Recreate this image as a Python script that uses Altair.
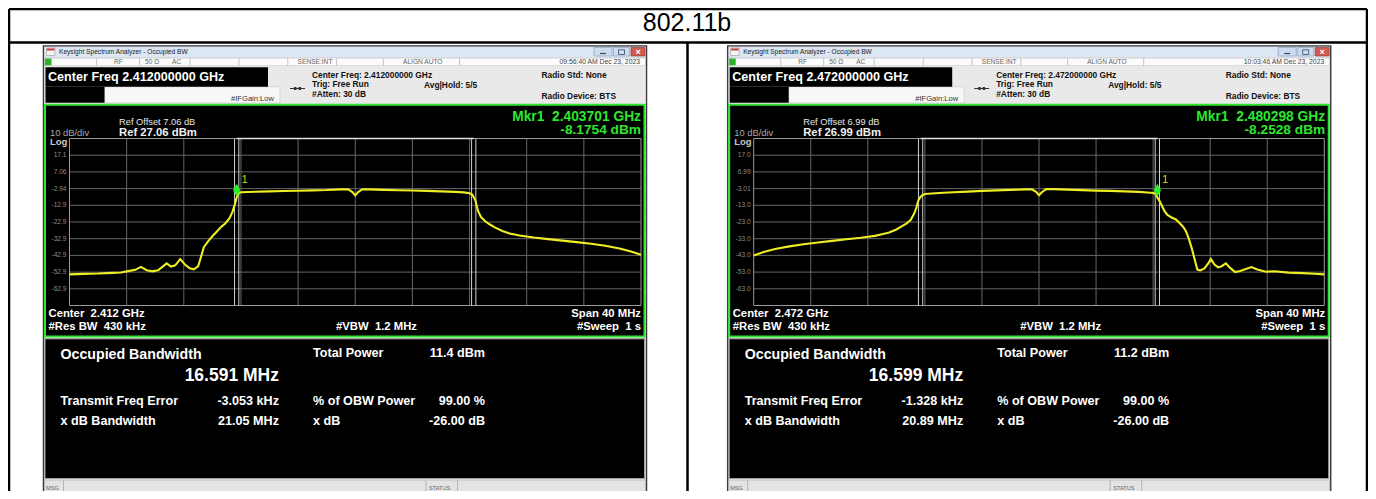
import altair as alt
import pandas as pd

M = 8                      # page margin of the html page
CW, CH = 1360, 483         # drawing size (fits the 1376x499 window exactly)
FONT = "Liberation Sans"
NB = "\u00a0"              # kept double spaces

TITLE = "802.11b"

# ---------------- data ----------------
# left screen: centre 2.412 GHz, trace as (offset MHz, dBm)
L_FREQ = [-20.0, -19.0, -18.0, -17.0, -16.4, -15.8, -15.4, -15.0, -14.6, -14.2,
          -13.8, -13.5, -13.2, -12.9, -12.6, -12.25, -11.9, -11.6, -11.3, -11.0,
          -10.8, -10.6, -10.3, -10.0, -9.7, -9.4, -9.1, -8.8, -8.6, -8.45,
          -8.3, -8.15, -8.0, -7.0, -6.0, -5.0, -4.0, -3.0, -2.0, -1.0,
          -0.5, -0.2, 0.0, 0.2, 0.5, 1.0, 2.0, 3.0, 4.0, 5.0,
          6.0, 7.0, 7.6, 8.0, 8.2, 8.4, 8.6, 8.8, 9.1, 9.4,
          9.8, 10.3, 10.8, 11.5, 12.5, 13.5, 14.5, 15.5, 16.5, 17.5,
          18.5, 19.3, 20.0]
L_DBM = [-54.3, -54.0, -53.8, -53.4, -53.2, -52.2, -51.6, -49.8, -51.8, -52.5,
         -51.9, -49.8, -47.7, -49.6, -48.9, -45.2, -48.6, -50.6, -51.3, -49.5,
         -44.0, -38.0, -34.5, -31.5, -28.8, -26.0, -23.8, -20.7, -17.0, -13.0,
         -8.2, -5.6, -5.1, -4.8, -4.6, -4.4, -4.2, -4.0, -3.8, -3.4,
         -3.3, -5.0, -7.0, -5.0, -3.3, -3.4, -3.7, -3.9, -4.1, -4.3,
         -4.6, -4.9, -5.2, -5.7, -6.6, -9.8, -16.5, -20.0, -22.5, -24.3,
         -26.3, -28.3, -29.8, -31.0, -32.2, -33.2, -34.1, -35.0, -36.0, -37.2,
         -38.8, -40.6, -42.6]

# right screen: centre 2.472 GHz
R_FREQ = [-20.0, -19.3, -18.5, -17.5, -16.5, -15.5, -14.5, -13.5, -12.5, -11.5,
          -11.0, -10.5, -10.0, -9.6, -9.3, -9.0, -8.75, -8.6, -8.45, -8.3,
          -8.15, -8.0, -7.0, -6.0, -5.0, -4.0, -3.0, -2.0, -1.0, -0.5,
          -0.2, 0.0, 0.2, 0.5, 1.0, 2.0, 3.0, 4.0, 5.0, 6.0,
          7.0, 7.6, 8.0, 8.2, 8.3, 8.45, 8.6, 8.8, 9.0, 9.3,
          9.6, 9.9, 10.1, 10.3, 10.5, 10.7, 10.9, 11.1, 11.3, 11.6,
          11.85, 12.05, 12.3, 12.55, 12.8, 13.1, 13.4, 13.75, 14.1, 14.5,
          14.9, 15.3, 15.9, 16.5, 17.5, 18.5, 19.3, 20.0]
R_DBM = [-43.0, -41.0, -39.2, -37.6, -36.3, -35.3, -34.3, -33.3, -32.4, -31.3,
         -30.3, -29.3, -27.5, -25.5, -24.0, -21.8, -18.0, -14.5, -10.0, -7.8,
         -6.8, -6.2, -5.6, -5.2, -4.8, -4.4, -4.1, -3.8, -3.5, -3.4,
         -5.0, -7.0, -5.2, -3.3, -3.3, -3.6, -3.9, -4.2, -4.4, -4.7,
         -5.0, -5.3, -5.6, -6.2, -8.3, -10.5, -13.0, -16.5, -18.8, -20.3,
         -21.5, -24.0, -25.8, -28.5, -33.0, -38.5, -45.0, -51.5, -52.0, -50.8,
         -48.0, -45.2, -48.5, -50.2, -49.5, -47.8, -50.5, -53.0, -52.3, -51.2,
         -50.0, -51.5, -52.8, -52.5, -53.3, -53.6, -54.0, -54.4]

CENTER_GHZ = [2.412, 2.472]
REF_DBM = [27.06, 26.99]
REF_OFFSET = [7.06, 6.99]
Y_LABELS = [["17.1", "7.06", "-2.94", "-12.9", "-22.9", "-32.9", "-42.9", "-52.9", "-62.9"],
            ["17.0", "6.99", "-3.01", "-13.0", "-23.0", "-33.0", "-43.0", "-53.0", "-63.0"]]
MKR_GHZ = [2.403701, 2.480298]
MKR_DBM = [-8.1754, -8.2528]
OBW_MHZ = [16.591, 16.599]
FREQ_ERR_KHZ = [-3.053, -1.328]
TOTAL_DBM = [11.4, 11.2]
XDB_BW_MHZ = [21.05, 20.89]
TIMESTAMP = ["09:56:40 AM Dec 23, 2023", "10:03:46 AM Dec 23, 2023"]

SPAN_MHZ = 40
GRID_F = [-16, -12, -8, -4, 0, 4, 8, 12, 16]
GRID_DB = [10, 20, 30, 40, 50, 60, 70, 80, 90]

# ---------------- layout helpers (page pixel coordinates) ----------------
rects, rules, texts = [], [], []


def rect(x0, y0, x1, y1, fill, stroke="transparent", sw=0.0):
    rects.append(dict(x=x0 - M, y=y0 - M, x2=x1 - M, y2=y1 - M,
                      fill=fill, stroke=stroke, sw=sw))


def rule(x0, y0, x1, y1, color, sw=1.0):
    rules.append(dict(x=x0 - M, y=y0 - M, x2=x1 - M, y2=y1 - M, color=color, sw=sw))


def txt(x, y, s, size, color, weight="normal", align="left"):
    texts.append(dict(x=x - M, y=y - M, text=s, size=size, color=color,
                      weight=weight, align=align))


# table frame
rule(9, 9, 1367, 9, "#000000", 2.5)
rule(9, 9, 9, 499, "#000000", 2.5)
rule(1367, 9, 1367, 499, "#000000", 2.5)
rule(9, 42.5, 1367, 42.5, "#000000", 2.5)
rule(687.5, 42.5, 687.5, 499, "#000000", 2.5)
txt(687, 23, TITLE, 25, "#000000", "normal", "center")

PANEL_DX = [0.0, 684.2]
GRAT_X = [(69.5, 641.0), (753.7, 1324.3)]
GRAT_Y = (138.5, 305.5)

spectrum_layers = []

for i in range(2):
    dx = PANEL_DX[i]

    def X(x):
        return x + dx

    # window frame
    rect(X(43.5), 46, X(646.5), 497, "#ececec", "#3c3c3c", 1.5)
    rect(X(44.5), 46.8, X(645.5), 57.5, "#dde7f3")
    rect(X(46.5), 48, X(55), 55.5, "#f2f2f2", "#8a8a8a", 0.5)
    rect(X(47), 48.5, X(54.5), 50.5, "#cc3b3b")
    rect(X(594), 47.5, X(612), 56, "#cddcee", "#7d97b8", 0.6)
    rect(X(613.5), 47.5, X(629.5), 56, "#cddcee", "#7d97b8", 0.6)
    rect(X(631), 47.5, X(645), 56, "#cf5a50", "#8e2f29", 0.6)
    rule(X(600), 53.5, X(606), 53.5, "#34495e", 1.2)
    rect(X(618.5), 49.8, X(624.5), 54.5, "transparent", "#34495e", 0.8)
    txt(X(638), 51.8, "×", 9, "#ffffff", "bold", "center")
    txt(X(59), 52, "Keysight Spectrum Analyzer - Occupied BW", 6.6, "#222222")
    # status row
    rect(X(44.5), 58, X(645.5), 65.8, "#fbfbfb", "#b4b4b4", 0.6)
    rect(X(45), 58.5, X(51.5), 65.3, "#2bb32b")
    for sx in [96.6, 139.5, 190, 239, 287.8, 336.6, 383.4, 459.5]:
        rule(X(sx), 58, X(sx), 65.8, "#b8b8b8", 0.8)
    for sx, s in [(114, "RF"), (145, "50 Ω"), (172, "AC"), (297.6, "SENSE:INT"), (403, "ALIGN AUTO")]:
        txt(X(sx), 62, s, 6.6, "#666666")
    txt(X(640), 62, TIMESTAMP[i], 6.8, "#444444", "normal", "right")
    # header
    rect(X(44.5), 66, X(645.5), 103.8, "#e9e9e9")
    rect(X(104.5), 86.8, X(280), 103, "#f7f7f7", "#c4c4c4", 0.6)
    rect(X(45.5), 67.3, X(268), 86.8, "#000000")
    rect(X(45.5), 86.8, X(104.5), 102.8, "#000000")
    rule(X(290), 88.5, X(305), 88.5, "#333333", 1)
    rect(X(294), 87, X(296.5), 90, "#333333")
    rect(X(298.5), 87, X(301), 90, "#333333")
    txt(X(48), 77, f"Center Freq {CENTER_GHZ[i]:.9f} GHz", 12.6, "#ffffff", "bold")
    txt(X(231), 99, "#IFGain:Low", 7.6, "#333333")
    txt(X(312), 74.5, f"Center Freq: {CENTER_GHZ[i]:.9f} GHz", 8.4, "#111111", "bold")
    txt(X(312), 83.5, "Trig: Free Run", 8.4, "#111111", "bold")
    txt(X(424), 84.5, "Avg|Hold: 5/5", 8.4, "#111111", "bold")
    txt(X(312), 93.5, "#Atten: 30 dB", 8.4, "#111111", "bold")
    txt(X(541.5), 75, "Radio Std: None", 8.4, "#111111", "bold")
    txt(X(541.5), 96, "Radio Device: BTS", 8.4, "#111111", "bold")
    # display
    rect(X(45), 104.8, X(644.5), 336.5, "#000000", "#2ee62e", 2)
    txt(X(119), 121.5, f"Ref Offset {REF_OFFSET[i]:.2f} dB", 9.3, "#e6e6e6")
    txt(X(119), 132.5, f"Ref {REF_DBM[i]:.2f} dBm", 11.3, "#f0f0f0", "bold")
    txt(X(50), 132.5, "10 dB/div", 9.4, "#a8a8a8")
    txt(X(50), 142, "Log", 9.5, "#c8c8c8", "bold")
    txt(X(641), 117, f"Mkr1{NB}{NB}{MKR_GHZ[i]:.6f} GHz", 13.8, "#2ee62e", "bold", "right")
    txt(X(641), 130, f"{MKR_DBM[i]:.4f} dBm", 13.7, "#2ee62e", "bold", "right")
    txt(X(48.5), 314, f"Center{NB}{NB}{CENTER_GHZ[i]:.3f} GHz", 11.3, "#ffffff", "bold")
    txt(X(48.5), 327, f"#Res BW{NB}{NB}430 kHz", 11.3, "#ffffff", "bold")
    txt(X(336), 327, f"#VBW{NB}{NB}1.2 MHz", 11.3, "#ffffff", "bold")
    txt(X(641), 314, f"Span {SPAN_MHZ} MHz", 11.3, "#ffffff", "bold", "right")
    txt(X(641), 327, f"#Sweep{NB}{NB}1 s", 11.3, "#ffffff", "bold", "right")
    # result panel
    rect(X(45), 338.8, X(644.5), 478.5, "#000000", "#a0a0a0", 1)
    txt(X(60.5), 355, "Occupied Bandwidth", 14.2, "#ffffff", "bold")
    txt(X(279), 375.5, f"{OBW_MHZ[i]:.3f} MHz", 17.5, "#ffffff", "bold", "right")
    txt(X(60.5), 400.5, "Transmit Freq Error", 12.6, "#ffffff", "bold")
    txt(X(279), 400.5, f"{FREQ_ERR_KHZ[i]:.3f} kHz", 12.6, "#ffffff", "bold", "right")
    txt(X(60.5), 420.5, "x dB Bandwidth", 12.6, "#ffffff", "bold")
    txt(X(279), 420.5, f"{XDB_BW_MHZ[i]:.2f} MHz", 12.6, "#ffffff", "bold", "right")
    txt(X(313), 353, "Total Power", 12.6, "#ffffff", "bold")
    txt(X(485), 353, f"{TOTAL_DBM[i]:.1f} dBm", 12.6, "#ffffff", "bold", "right")
    txt(X(313), 400.5, "% of OBW Power", 12.6, "#ffffff", "bold")
    txt(X(485), 400.5, "99.00 %", 12.6, "#ffffff", "bold", "right")
    txt(X(313), 420.5, "x dB", 12.6, "#ffffff", "bold")
    txt(X(485), 420.5, "-26.00 dB", 12.6, "#ffffff", "bold", "right")
    # status bar
    rect(X(44.5), 480, X(645.5), 496.5, "#e3e3e3", "#a8a8a8", 0.6)
    for sx in [63.5, 426, 457.5]:
        rule(X(sx), 480.5, X(sx), 496, "#a8a8a8", 0.8)
    txt(X(46), 487.5, "MSG", 5.6, "#666666")
    txt(X(429), 487.5, "STATUS", 5.6, "#666666")

    # ------------- spectrum through scales -------------
    ref = REF_DBM[i]
    gx0, gx1 = GRAT_X[i]
    xs = alt.Scale(domain=[-SPAN_MHZ / 2, SPAN_MHZ / 2], range=[gx0 - M, gx1 - M])
    ys = alt.Scale(domain=[ref - 100, ref], range=[GRAT_Y[1] - M, GRAT_Y[0] - M])

    def XE(f):
        return alt.X(f, type="quantitative", scale=xs, axis=None)

    def YE(f):
        return alt.Y(f, type="quantitative", scale=ys, axis=None)

    vgrid = pd.DataFrame({"f": GRID_F, "lo": ref - 100, "hi": ref})
    hgrid = pd.DataFrame({"p": [ref - d for d in GRID_DB], "a": -20, "b": 20})
    box = pd.DataFrame({"a": [-20], "b": [20], "lo": [ref - 100], "hi": [ref]})
    trace = pd.DataFrame({"f": L_FREQ if i == 0 else R_FREQ,
                          "p": L_DBM if i == 0 else R_DBM})
    f_lo = FREQ_ERR_KHZ[i] / 1000 - OBW_MHZ[i] / 2
    f_hi = FREQ_ERR_KHZ[i] / 1000 + OBW_MHZ[i] / 2
    obw = pd.DataFrame({"f": [f_lo - 0.15, f_lo + 0.15, f_hi - 0.15, f_hi + 0.15],
                        "lo": ref - 100, "hi": ref})
    obw_top = pd.DataFrame({"a": [f_lo], "b": [f_hi], "p": [ref]})
    mkr = pd.DataFrame({"f": [(MKR_GHZ[i] - CENTER_GHZ[i]) * 1000], "p": [MKR_DBM[i]]})
    ylab = pd.DataFrame({"f": -20, "p": [ref - d for d in GRID_DB], "lab": Y_LABELS[i]})

    spectrum_layers += [
        alt.Chart(vgrid).mark_rule(color="#666666", strokeWidth=1).encode(
            x=XE("f"), y=YE("lo"), y2="hi"),
        alt.Chart(hgrid).mark_rule(color="#666666", strokeWidth=1).encode(
            y=YE("p"), x=XE("a"), x2="b"),
        alt.Chart(box).mark_rect(fill="transparent", stroke="#9a9a9a", strokeWidth=1).encode(
            x=XE("a"), x2="b", y=YE("lo"), y2="hi"),
        alt.Chart(obw).mark_rule(color="#cfcfcf", strokeWidth=1).encode(
            x=XE("f"), y=YE("lo"), y2="hi"),
        alt.Chart(obw_top).mark_rule(color="#e0e0e0", strokeWidth=1.5).encode(
            y=YE("p"), x=XE("a"), x2="b"),
        alt.Chart(trace).mark_line(color="#eeee22", strokeWidth=2.1).encode(
            x=XE("f"), y=YE("p")),
        alt.Chart(mkr).mark_point(shape="M0,-1L0.55,0L0,1L-0.55,0Z", filled=True,
                                  color="#2af02a", size=169, yOffset=-7, opacity=1).encode(
            x=XE("f"), y=YE("p")),
        alt.Chart(mkr).mark_text(text="1", font=FONT, fontSize=10.5, color="#dede00",
                                 align="left", dx=5, dy=-17).encode(
            x=XE("f"), y=YE("p")),
        alt.Chart(ylab).mark_text(font=FONT, fontSize=6.6, color="#8c8c8c",
                                  align="right", baseline="middle", dx=-3).encode(
            x=XE("f"), y=YE("p"), text="lab:N"),
    ]

# ---------------- decoration layers ----------------
rect_df = pd.DataFrame(rects)
rule_df = pd.DataFrame(rules)
text_df = pd.DataFrame(texts)

PX = dict(scale=None, axis=None)

rect_layer = alt.Chart(rect_df).mark_rect().encode(
    x=alt.X("x:Q", **PX), x2="x2:Q", y=alt.Y("y:Q", **PX), y2="y2:Q",
    fill=alt.Fill("fill:N", scale=None, legend=None),
    stroke=alt.Stroke("stroke:N", scale=None, legend=None),
    strokeWidth=alt.StrokeWidth("sw:Q", scale=None, legend=None),
)
rule_layer = alt.Chart(rule_df).mark_rule().encode(
    x=alt.X("x:Q", **PX), x2="x2:Q", y=alt.Y("y:Q", **PX), y2="y2:Q",
    color=alt.Color("color:N", scale=None, legend=None),
    strokeWidth=alt.StrokeWidth("sw:Q", scale=None, legend=None),
)

text_layers = []
for (w, a), g in text_df.groupby(["weight", "align"]):
    text_layers.append(
        alt.Chart(g.reset_index(drop=True)).mark_text(
            font=FONT, fontWeight=w, align=a, baseline="middle").encode(
            x=alt.X("x:Q", **PX), y=alt.Y("y:Q", **PX), text="text:N",
            size=alt.Size("size:Q", scale=None, legend=None),
            color=alt.Color("color:N", scale=None, legend=None),
        )
    )

chart = alt.layer(rect_layer, *spectrum_layers, rule_layer, *text_layers).resolve_scale(
    x="independent", y="independent"
).properties(
    width=CW, height=CH, padding=0, background="#ffffff",
    autosize=alt.AutoSizeParams(type="none"),
).configure_view(strokeWidth=0)

chart.save("out.html", embed_options={"renderer": "svg", "actions": False})
